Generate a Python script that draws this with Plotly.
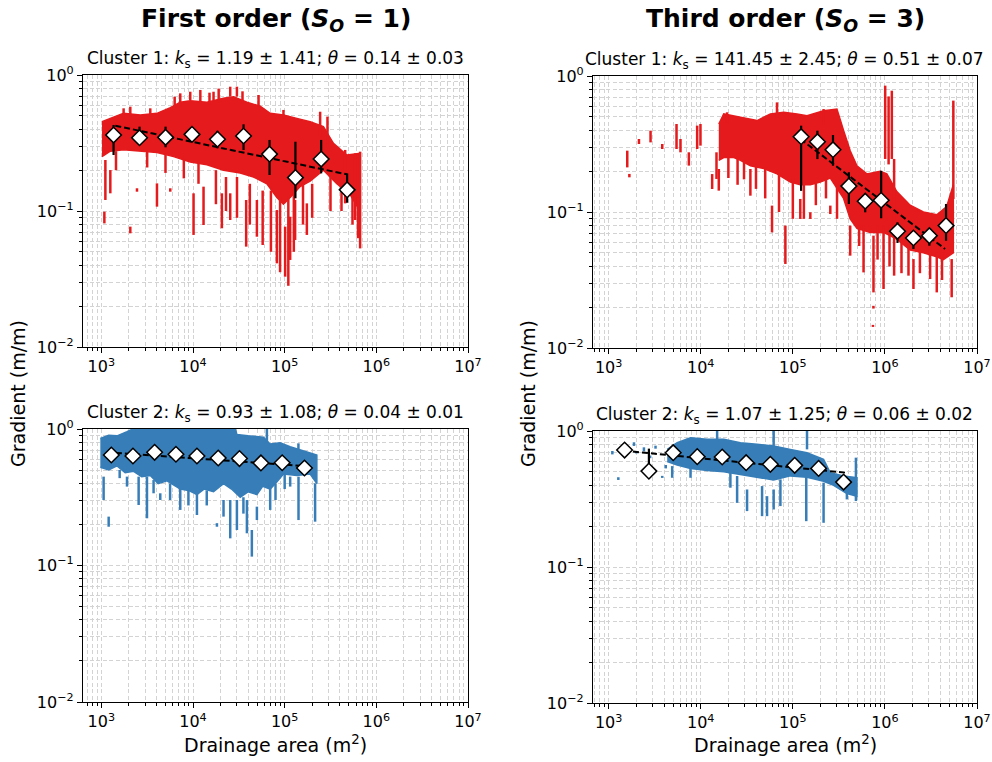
import numpy as np
import plotly.graph_objects as go

RED = "#e41a1c"
BLUE = "#377eb8"
FONT = "DejaVu Sans"

# ---------------- binned medians (area m^2, gradient m/m, error range) ----------------
tl_area = [1.36e3, 2.61e3, 5.02e3, 9.75e3, 1.85e4, 3.56e4, 6.84e4, 1.31e5, 2.50e5, 4.80e5]
tl_grad = [0.362, 0.346, 0.348, 0.366, 0.337, 0.356, 0.262, 0.176, 0.241, 0.143]
tl_hi = [0.429, 0.417, 0.417, 0.410, 0.389, 0.434, 0.333, 0.323, 0.333, 0.189]
tl_lo = [0.258, 0.306, 0.294, 0.323, 0.289, 0.281, 0.184, 0.124, 0.189, 0.115]

tr_area = [1.23e5, 1.85e5, 2.73e5, 4.06e5, 6.11e5, 9.10e5, 1.37e6, 2.04e6, 3.04e6, 4.61e6]
tr_grad = [0.358, 0.329, 0.287, 0.155, 0.120, 0.122, 0.0721, 0.0644, 0.0670, 0.0794]
tr_hi = [0.431, 0.396, 0.368, 0.196, 0.132, 0.201, 0.084, 0.071, 0.075, 0.1145]
tr_lo = [0.143, 0.245, 0.219, 0.1145, 0.0995, 0.090, 0.0592, 0.0535, 0.0565, 0.0615]

bl_area = [1.285e3, 2.213e3, 3.811e3, 6.516e3, 1.104e4, 1.884e4, 3.214e4, 5.508e4, 9.397e4, 1.644e5]
bl_grad = [0.645, 0.634, 0.675, 0.653, 0.634, 0.613, 0.607, 0.564, 0.566, 0.518]
bl_hi = [0.70, 0.70, 0.73, 0.70, 0.68, 0.66, 0.65, 0.60, 0.60, 0.55]
bl_lo = [0.59, 0.58, 0.62, 0.61, 0.59, 0.57, 0.56, 0.53, 0.53, 0.49]

br_area = [1.489e3, 2.735e3, 5.023e3, 9.162e3, 1.710e4, 3.112e4, 5.702e4, 1.047e5, 1.905e5, 3.556e5]
br_grad = [0.724, 0.507, 0.693, 0.648, 0.644, 0.585, 0.569, 0.559, 0.531, 0.421]
br_hi = [0.76, 0.742, 0.73, 0.68, 0.68, 0.62, 0.60, 0.59, 0.56, 0.44]
br_lo = [0.69, 0.49, 0.66, 0.61, 0.61, 0.56, 0.53, 0.53, 0.50, 0.40]

# ---------------- fitted power law lines (end points) ----------------
tl_fit_area = [1.42e3, 4.76e5]
tl_fit_grad = [0.424, 0.186]
tr_fit_area = [1.21e5, 4.50e6]
tr_fit_grad = [0.344, 0.0535]
bl_fit_area = [1.15e3, 1.60e5]
bl_fit_grad = [0.675, 0.536]
br_fit_area = [1.47e3, 3.71e5]
br_fit_grad = [0.717, 0.494]

# ---------------- point clouds: dense core outline (log10 area, log10 gradient) ----------------
tl_core_logA = [3.007, 3.098, 3.243, 3.425, 3.607, 3.752, 3.861, 3.970, 4.152, 4.333, 4.442, 4.588,
                4.733, 4.842, 4.987, 5.133, 5.278, 5.423, 5.532, 5.678, 5.823,
                5.823, 5.714, 5.569, 5.423, 5.278, 5.169, 5.060, 4.987, 4.915, 4.806, 4.660,
                4.515, 4.333, 4.152, 3.970, 3.788, 3.607, 3.425, 3.243, 3.098, 3.007]
tl_core_logG = [-0.343, -0.319, -0.282, -0.294, -0.282, -0.240, -0.200, -0.190, -0.200, -0.170, -0.160, -0.200,
                -0.230, -0.282, -0.294, -0.319, -0.343, -0.380, -0.502, -0.588, -0.576,
                -1.000, -0.880, -0.800, -0.700, -0.780, -0.820, -0.900, -0.950, -0.900, -0.800, -0.750,
                -0.720, -0.700, -0.660, -0.640, -0.600, -0.570, -0.560, -0.550, -0.560, -0.600]

tr_core_logA = [4.196, 4.250, 4.431, 4.612, 4.756, 4.901, 5.045, 5.154, 5.334, 5.479, 5.551,
                5.623, 5.696, 5.804, 5.949, 6.021, 6.129, 6.274, 6.418, 6.563, 6.671, 6.743,
                6.743, 6.635, 6.563, 6.418, 6.274, 6.129, 5.985, 5.840, 5.696, 5.623, 5.551,
                5.407, 5.298, 5.190, 5.081, 4.973, 4.828, 4.684, 4.539, 4.431, 4.359, 4.250, 4.196]
tr_core_logG = [-0.353, -0.279, -0.304, -0.328, -0.279, -0.267, -0.279, -0.292, -0.255, -0.243, -0.400,
                -0.550, -0.660, -0.720, -0.700, -0.720, -0.850, -0.950, -1.000, -1.020, -0.960, -0.800,
                -1.300, -1.350, -1.330, -1.300, -1.280, -1.200, -1.150, -1.150, -1.120, -1.050, -0.900,
                -0.750, -0.780, -0.800, -0.800, -0.780, -0.720, -0.680, -0.660, -0.620, -0.600, -0.600, -0.620]

bl_core_logA = [2.989, 3.080, 3.171, 3.280, 3.400, 3.500, 4.442, 4.479, 4.600, 4.769, 4.842, 4.950,
                5.060, 5.205, 5.351,
                5.351, 5.278, 5.133, 4.987, 4.900, 4.842, 4.760, 4.697, 4.600, 4.515, 4.420, 4.333,
                4.224, 4.120, 4.043, 3.950, 3.861, 3.716, 3.620, 3.534, 3.440, 3.352, 3.260, 3.171,
                3.080, 2.989]
bl_core_logG = [-0.070, -0.045, -0.050, -0.020, 0.020, 0.050, 0.050, -0.040, -0.050, -0.060, -0.110, -0.100,
                -0.130, -0.160, -0.190,
                -0.400, -0.330, -0.340, -0.330, -0.400, -0.440, -0.420, -0.480, -0.460, -0.500, -0.440, -0.400,
                -0.460, -0.440, -0.480, -0.450, -0.440, -0.380, -0.400, -0.340, -0.350, -0.310, -0.320, -0.270,
                -0.300, -0.280]

br_core_logA = [3.636, 3.744, 3.889, 4.070, 4.250, 4.431, 4.612, 4.792, 4.973, 5.154, 5.334, 5.407,
                5.551, 5.660, 5.696,
                5.696, 5.587, 5.443, 5.334, 5.154, 4.973, 4.792, 4.612, 4.431, 4.250, 4.070,
                3.889, 3.744, 3.636]
br_core_logG = [-0.135, -0.086, -0.049, -0.061, -0.061, -0.086, -0.098, -0.110, -0.135, -0.160, -0.209, -0.307,
                -0.331, -0.344, -0.344,
                -0.480, -0.460, -0.400, -0.370, -0.340, -0.330, -0.360, -0.340, -0.320, -0.300, -0.290,
                -0.275, -0.250, -0.225]

# ---------------- point clouds: vertical streaks (log10 area, top and bottom log10 gradient) ----------------
tl_streak_logA = [3.044, 3.098, 3.033, 3.316, 3.389, 3.607, 3.752, 4.006, 4.115, 4.315, 4.406, 4.580,
                  4.697, 4.915, 5.005, 5.060, 5.114, 5.242, 5.387, 5.467, 5.660, 5.769, 5.823,
                  3.243, 3.316, 3.534, 3.861, 3.970, 4.224, 4.406, 4.479, 4.715, 4.987,
                  4.250, 4.360, 4.480, 4.620, 4.760, 4.850, 4.950, 5.040, 5.100, 5.200, 5.300,
                  5.500, 5.620, 5.740, 5.800, 3.160, 3.500, 3.700, 3.900, 4.060,
                  3.800, 4.080, 4.180, 4.280, 4.540]
tl_streak_top = [-0.625, -0.699, -1.005, -1.115, -0.833, -0.797, -0.833, -0.870, -0.821, -0.870, -0.870, -0.919,
                 -0.919, -0.993, -1.115, -1.042, -0.919, -0.944, -0.270, -0.306, -0.551, -0.576, -0.564,
                 -0.245, -0.233, -0.245, -0.135, -0.123, -0.123, -0.086, -0.086, -0.147, -0.257,
                 -0.700, -0.750, -0.750, -0.800, -0.850, -0.850, -0.900, -0.900, -0.850, -0.800, -0.800,
                 -0.750, -0.800, -0.850, -0.900, -0.560, -0.560, -0.580, -0.620, -0.650,
                 -0.160, -0.110, -0.130, -0.100, -0.120]
tl_streak_bot = [-0.919, -0.870, -1.091, -1.164, -0.858, -0.968, -0.858, -1.176, -1.103, -1.127, -1.066, -1.262,
                 -1.189, -1.385, -1.483, -1.360, -1.213, -1.176, -0.453, -0.527, -0.944, -1.066, -1.275,
                 -0.319, -0.306, -0.306, -0.233, -0.184, -0.184, -0.159, -0.159, -0.233, -0.319,
                 -0.950, -1.000, -1.050, -1.100, -1.250, -1.300, -1.450, -1.550, -1.300, -1.100, -1.050,
                 -1.000, -1.000, -1.100, -1.200, -0.700, -0.680, -0.720, -0.760, -0.800,
                 -0.250, -0.220, -0.220, -0.200, -0.220]

tr_streak_logA = [3.202, 3.225, 3.329, 3.455, 3.582, 3.737, 3.780, 3.871, 3.961, 3.997, 4.124, 4.171,
                  4.196, 4.539, 4.774, 4.919, 5.081, 5.190, 5.407, 5.623, 5.768, 5.876, 5.875, 5.870,
                  5.985, 6.100, 6.256, 6.310, 6.491, 6.563, 6.725,
                  6.003, 6.040, 6.075, 6.743, 4.828, 5.334, 4.286,
                  4.300, 4.400, 4.470, 4.600, 4.700, 4.850, 5.000, 5.120, 5.250, 5.360, 5.480,
                  5.720, 5.920, 6.050, 6.180, 6.380, 6.620]
tr_streak_top = [-0.549, -0.720, -0.463, -0.402, -0.500, -0.353, -0.463, -0.561, -0.365, -0.353, -0.721, -0.561,
                 -0.684, -0.684, -0.953, -1.100, -0.904, -1.002, -0.953, -1.100, -1.100, -1.174, -1.690, -1.830,
                 -1.100, -0.610, -1.248, -1.346, -1.248, -1.297, -1.346,
                 -0.071, -0.150, -0.108, -0.181, -0.194, -0.243, -0.267,
                 -0.600, -0.600, -0.620, -0.650, -0.680, -0.720, -0.750, -0.780, -0.780, -0.750, -0.800,
                 -1.100, -1.100, -1.100, -1.200, -1.280, -1.300]
tr_streak_bot = [-0.672, -0.745, -0.500, -0.488, -0.537, -0.537, -0.561, -0.659, -0.537, -0.512, -0.831, -0.757,
                 -0.843, -0.880, -1.150, -1.382, -1.051, -1.051, -1.015, -1.321, -1.444, -1.591, -1.710, -1.845,
                 -1.566, -1.468, -1.468, -1.566, -1.493, -1.591, -1.627,
                 -0.610, -0.650, -0.610, -0.904, -0.304, -0.353, -0.341,
                 -0.750, -0.800, -0.760, -0.830, -0.900, -1.000, -1.050, -1.050, -0.950, -0.900, -1.050,
                 -1.250, -1.350, -1.400, -1.450, -1.450, -1.500]

bl_streak_logA = [3.025, 3.080, 3.280, 3.407, 3.498, 3.570, 3.643, 3.861, 4.043, 4.261, 4.333, 4.406,
                  4.479, 4.588, 4.642, 4.697, 4.842, 5.060, 5.151, 5.332, 4.806, 5.150,
                  3.200, 3.750, 3.950, 4.150, 4.550, 4.900, 5.000]
bl_streak_top = [-0.349, -0.642, -0.349, -0.349, -0.349, -0.374, -0.471, -0.422, -0.422, -0.690, -0.520, -0.520,
                 -0.520, -0.520, -0.740, -0.569, -0.398, -0.349, -0.349, -0.398, 0.050, -0.105,
                 -0.300, -0.400, -0.450, -0.450, -0.500, -0.400, -0.330]
bl_streak_bot = [-0.520, -0.716, -0.422, -0.557, -0.654, -0.471, -0.520, -0.593, -0.630, -0.716, -0.642, -0.801,
                 -0.740, -0.764, -0.935, -0.667, -0.593, -0.422, -0.667, -0.679, -0.100, -0.200,
                 -0.360, -0.520, -0.560, -0.560, -0.620, -0.520, -0.440]

br_streak_logA = [3.040, 3.105, 3.275, 3.383, 3.509, 3.582, 3.690, 3.889, 4.322, 4.395, 4.503, 4.666,
                  4.720, 4.792, 4.865, 5.146, 5.334, 5.587, 5.685, 4.178, 4.792, 5.154,
                  3.160, 3.300, 3.450, 3.620]
br_streak_top = [-0.147, -0.340, -0.083, -0.120, -0.108, -0.330, -0.258, -0.258, -0.307, -0.331, -0.430, -0.405,
                 -0.479, -0.430, -0.356, -0.258, -0.380, -0.380, -0.196, 0.050, 0.050, 0.050,
                 -0.150, -0.150, -0.180, -0.250]
br_streak_bot = [-0.172, -0.360, -0.110, -0.150, -0.130, -0.345, -0.344, -0.344, -0.417, -0.528, -0.589, -0.626,
                 -0.626, -0.577, -0.552, -0.663, -0.675, -0.503, -0.515, -0.086, -0.110, -0.135,
                 -0.165, -0.165, -0.200, -0.275]

# ---------------- titles and ticks ----------------
col_titles = ["<b>First order (<i>S</i><sub><i>O</i></sub> = 1)</b>",
              "<b>Third order (<i>S</i><sub><i>O</i></sub> = 3)</b>"]
panel_titles = [
    "Cluster 1: <i>k</i><sub>s</sub> = 1.19 ± 1.41; <i>θ</i> = 0.14 ± 0.03",
    "Cluster 1: <i>k</i><sub>s</sub> = 141.45 ± 2.45; <i>θ</i> = 0.51 ± 0.07",
    "Cluster 2: <i>k</i><sub>s</sub> = 0.93 ± 1.08; <i>θ</i> = 0.04 ± 0.01",
    "Cluster 2: <i>k</i><sub>s</sub> = 1.07 ± 1.25; <i>θ</i> = 0.06 ± 0.02",
]
y_label = "Gradient (m/m)"
x_label = "Drainage area (m<sup>2</sup>)"
x_tick_exp = [3, 4, 5, 6, 7]
y_tick_exp = [-2, -1, 0]

W, H = 992, 762
def px_x(p):
    return p / W
def px_y(p):
    return 1 - p / H

domains = [
    ([px_x(83), px_x(468)], [px_y(347), px_y(75)], 2.80),
    ([px_x(593), px_x(977)], [px_y(348), px_y(76)], 2.83),
    ([px_x(83), px_x(468)], [px_y(702), px_y(429)], 2.80),
    ([px_x(593), px_x(977)], [px_y(703), px_y(431)], 2.83),
]

panels = [
    (tl_area, tl_grad, tl_hi, tl_lo, tl_fit_area, tl_fit_grad, tl_core_logA, tl_core_logG,
     tl_streak_logA, tl_streak_top, tl_streak_bot, RED),
    (tr_area, tr_grad, tr_hi, tr_lo, tr_fit_area, tr_fit_grad, tr_core_logA, tr_core_logG,
     tr_streak_logA, tr_streak_top, tr_streak_bot, RED),
    (bl_area, bl_grad, bl_hi, bl_lo, bl_fit_area, bl_fit_grad, bl_core_logA, bl_core_logG,
     bl_streak_logA, bl_streak_top, bl_streak_bot, BLUE),
    (br_area, br_grad, br_hi, br_lo, br_fit_area, br_fit_grad, br_core_logA, br_core_logG,
     br_streak_logA, br_streak_top, br_streak_bot, BLUE),
]

def tick_text(e):
    return "10<sup>" + (str(e) if e >= 0 else "\u2212" + str(-e)) + "</sup>"

x_minor = [m * 10.0 ** k for k in range(2, 7) for m in range(2, 10)]
y_minor = [m * 10.0 ** k for k in range(-2, 0) for m in range(2, 10)]

fig = go.Figure()
layout = dict(
    width=W, height=H, autosize=False, margin=dict(l=0, r=0, t=0, b=0, pad=0, autoexpand=False),
    paper_bgcolor="white", plot_bgcolor="white", showlegend=False,
    font=dict(family=FONT, color="black"),
)

GRID = "#d3d3d3"
DASH = "4px,2.5px"

for i, (area, grad, hi, lo, fa, fg, cA, cG, sA, sT, sB, col) in enumerate(panels):
    n = "" if i == 0 else str(i + 1)
    xa, ya = "x" + n, "y" + n
    fig.add_trace(go.Scatter(x=np.power(10.0, cA), y=np.power(10.0, cG), mode="lines",
                             fill="toself", fillcolor=col, line=dict(color=col, width=1.5),
                             xaxis=xa, yaxis=ya, hoverinfo="skip"))
    sx, sy = [], []
    for a, t, b in zip(sA, sT, sB):
        sx += [10 ** a, 10 ** a, None]
        sy += [10 ** t, 10 ** b, None]
    fig.add_trace(go.Scatter(x=sx, y=sy, mode="lines", line=dict(color=col, width=2.5),
                             xaxis=xa, yaxis=ya, hoverinfo="skip"))
    fig.add_trace(go.Scatter(x=fa, y=fg, mode="lines", line=dict(color="black", width=2, dash="6px,3px"),
                             xaxis=xa, yaxis=ya))
    up = [h - g for h, g in zip(hi, grad)]
    dn = [g - l for g, l in zip(grad, lo)]
    fig.add_trace(go.Scatter(x=area, y=grad, mode="markers", marker=dict(size=1, opacity=0),
                             error_y=dict(type="data", array=up, arrayminus=dn, symmetric=False,
                                          color="black", thickness=2.2, width=0),
                             xaxis=xa, yaxis=ya))
    fig.add_trace(go.Scatter(x=area, y=grad, mode="markers",
                             marker=dict(symbol="diamond", size=12, color="white",
                                         line=dict(color="black", width=1.5)),
                             xaxis=xa, yaxis=ya))

    xd, yd, xr0 = domains[i]
    common = dict(type="log", showgrid=True, gridcolor=GRID, griddash=DASH, gridwidth=1,
                  ticks="outside", ticklen=5, tickwidth=1, tickcolor="black", automargin=False,
                  showline=True, linecolor="black", linewidth=1.2, mirror=True, zeroline=False,
                  tickfont=dict(family=FONT, size=16, color="black"))
    layout["xaxis" + n] = dict(common, domain=xd, range=[xr0, 7.0], anchor=ya,
                               tickmode="array", tickvals=[10.0 ** e for e in x_tick_exp],
                               ticktext=[tick_text(e) for e in x_tick_exp],
                               minor=dict(tickmode="array", tickvals=x_minor, ticks="outside", ticklen=3,
                                          tickcolor="black", showgrid=True, gridcolor=GRID,
                                          griddash=DASH, gridwidth=1))
    layout["yaxis" + n] = dict(common, domain=yd, range=[-2.0, 0.0], anchor=xa,
                               tickmode="array", tickvals=[10.0 ** e for e in y_tick_exp],
                               ticktext=[tick_text(e) for e in y_tick_exp],
                               minor=dict(tickmode="array", tickvals=y_minor, ticks="outside", ticklen=3,
                                          tickcolor="black", showgrid=True, gridcolor=GRID,
                                          griddash=DASH, gridwidth=1))

annotations = []
for i, t in enumerate(panel_titles):
    xd, yd, _ = domains[i]
    annotations.append(dict(text=t, x=(xd[0] + xd[1]) / 2, y=yd[1], xref="paper", yref="paper",
                            xanchor="center", yanchor="bottom", yshift=2, showarrow=False,
                            font=dict(family=FONT, size=17, color="black")))
for cx, t in zip([275.5, 785], col_titles):
    annotations.append(dict(text=t, x=px_x(cx), y=px_y(20), xref="paper", yref="paper",
                            xanchor="center", yanchor="middle", showarrow=False,
                            font=dict(family=FONT, size=25, color="black")))
for cx in [18, 528]:
    annotations.append(dict(text=y_label, x=px_x(cx), y=px_y(394), xref="paper", yref="paper",
                            xanchor="center", yanchor="middle", textangle=-90, showarrow=False,
                            font=dict(family=FONT, size=19, color="black")))
for cx in [275.5, 785]:
    annotations.append(dict(text=x_label, x=px_x(cx), y=px_y(744), xref="paper", yref="paper",
                            xanchor="center", yanchor="middle", showarrow=False,
                            font=dict(family=FONT, size=19, color="black")))
layout["annotations"] = annotations

fig.update_layout(**layout)
fig.write_html("out.html", config={"displayModeBar": False},
               post_script="document.body.style.margin='0';document.body.style.overflow='hidden';")
